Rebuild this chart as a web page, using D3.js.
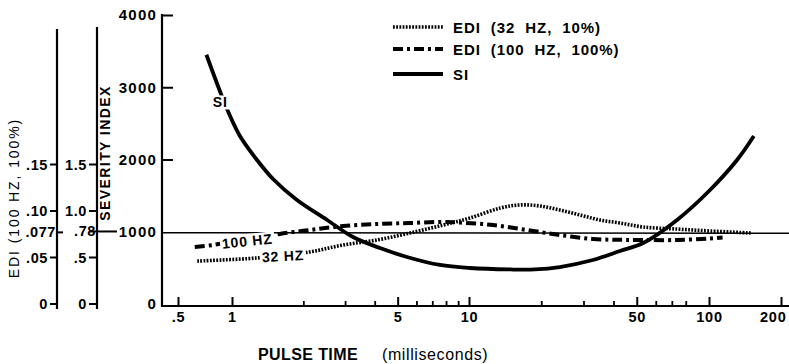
<!DOCTYPE html>
<html><head><meta charset="utf-8">
<script src="https://cdn.jsdelivr.net/npm/d3@7"></script>
<style>
body{margin:0;background:#fff}
svg{display:block}
text{font-family:"Liberation Sans",Arial,Helvetica,sans-serif;fill:#000}
</style>
</head><body>
<svg id="c" width="789" height="364"></svg>
<script>
// ---------------- data ----------------
const siTime  = [0.72, 0.86, 0.97, 1.08, 1.275, 1.49, 1.88, 2.52, 3.24, 4.21, 5.47, 7.54, 10.1, 14.8, 18.8, 23.9, 32.8, 42.6, 53.2, 73.6, 101, 131, 154];
const siValue = [3450, 2935, 2616, 2325, 1993, 1730, 1439, 1163, 927, 775, 651, 540, 498, 478, 478, 512, 609, 734, 844, 1163, 1578, 1993, 2325];

const edi100Time  = [0.62, 0.78, 1.0, 1.3, 1.59, 2.13, 2.94, 4.09, 5.63, 7.77, 9.2, 12.6, 17.4, 23.9, 32.8, 42.6, 53, 73.6, 101, 114];
const edi100Value = [0.0613, 0.0634, 0.067, 0.071, 0.0753, 0.0796, 0.0839, 0.0860, 0.0871, 0.0882, 0.0875, 0.0849, 0.0796, 0.0742, 0.0699, 0.0690, 0.0688, 0.0688, 0.0705, 0.0715];

const edi32Time  = [0.64, 1.275, 2.13, 2.94, 4.09, 5.63, 7.77, 10.1, 13.5, 16.3, 19.7, 23.9, 29, 35.1, 42.6, 53.2, 73.6, 101, 151];
const edi32Value = [0.462, 0.495, 0.56, 0.634, 0.688, 0.763, 0.849, 0.925, 1.032, 1.065, 1.054, 1.011, 0.957, 0.903, 0.871, 0.828, 0.806, 0.785, 0.763];

const xMajorTicks  = [0.5, 1, 5, 10, 50, 100, 200];
const xMajorLabels = [".5", "1", "5", "10", "50", "100", "200"];
const xMinorTicks  = [2, 3, 4, 6, 7, 8, 9, 20, 30, 40, 60, 70, 80];
const siTicks      = [0, 1000, 2000, 3000, 4000];
const edi100Ticks  = [0, 0.05, 0.077, 0.10, 0.15];
const edi100Labels = ["0", ".05", ".077", ".10", ".15"];
const edi32Ticks   = [0, 0.5, 0.78, 1.0, 1.5];
const edi32Labels  = ["0", ".5", ".78", "1.0", "1.5"];
const refLevel     = 1000;
const legendLabels = ["EDI  (32  HZ,  10%)", "EDI  (100  HZ,  100%)", "SI"];

// ---------------- scales ----------------
const svg = d3.select("#c");
const x = d3.scaleLog().domain([0.5, 1, 10, 100, 200]).range([178, 232, 469, 709, 781]);
const ySI = d3.scaleLinear().domain([0, 4000]).range([304, 15]);
const y100 = d3.scaleLinear().domain([0, 0.15]).range([304, 164.5]);
const y32 = d3.scaleLinear().domain([0, 1.5]).range([304, 164.5]);

const FONT = "Liberation Sans, Arial, Helvetica, sans-serif";

// ---------------- styles ----------------
const styles = {
  si:   {w: 3.8, dash: null},
  e100: {w: 4, dash: "10,4,3,4"},
  e32:  {w: 3.6, dash: "1.8,1.4"}
};

// ---------------- main axes ----------------
const yAxis = d3.axisLeft(ySI).tickValues(siTicks).tickFormat(d3.format("d"))
  .tickSizeInner(-11).tickSizeOuter(0).tickPadding(5);
const gy = svg.append("g").attr("transform", "translate(162,0)").call(yAxis);
gy.select(".domain").remove();
gy.selectAll(".tick line").attr("stroke", "#000").attr("stroke-width", 2)
  .filter(d => d === 0 || d === 1000).remove();
gy.selectAll(".tick text").attr("font-size", 15).attr("font-weight", "bold").attr("font-family", FONT)
  .attr("letter-spacing", 1.2);
svg.append("line").attr("x1", 162).attr("x2", 162).attr("y1", ySI(4000) - 1).attr("y2", 307)
  .attr("stroke", "#000").attr("stroke-width", 2.2);

const xAxis = d3.axisBottom(x).tickValues(xMajorTicks).tickFormat((d, i) => xMajorLabels[i])
  .tickSizeInner(-9).tickSizeOuter(0).tickPadding(6);
const gx = svg.append("g").attr("transform", "translate(0,306)").call(xAxis);
gx.select(".domain").remove();
gx.selectAll(".tick line").attr("stroke", "#000").attr("stroke-width", 2);
gx.selectAll(".tick text").attr("font-size", 14.5).attr("font-weight", "bold").attr("font-family", FONT)
  .attr("letter-spacing", 0.8)
  .filter(d => d === 200).attr("text-anchor", "end").attr("x", 5);
const xAxisMinor = d3.axisBottom(x).tickValues(xMinorTicks).tickFormat("").tickSizeInner(-5).tickSizeOuter(0);
const gxm = svg.append("g").attr("transform", "translate(0,306)").call(xAxisMinor);
gxm.select(".domain").remove();
gxm.selectAll(".tick line").attr("stroke", "#000").attr("stroke-width", 1.8);
svg.append("line").attr("x1", 161).attr("x2", 789).attr("y1", 306).attr("y2", 306)
  .attr("stroke", "#000").attr("stroke-width", 2.2);

// ---------------- left auxiliary axes ----------------
function auxAxis(xPos, scale, ticks, labels, top, labelRight, special) {
  svg.append("line").attr("x1", xPos).attr("x2", xPos).attr("y1", top).attr("y2", 309)
    .attr("stroke", "#000").attr("stroke-width", 2.2);
  ticks.forEach((t, i) => {
    const yy = scale(t);
    if (t !== special) {
      svg.append("line").attr("x1", labelRight + 2).attr("x2", xPos).attr("y1", yy).attr("y2", yy)
        .attr("stroke", "#000").attr("stroke-width", 2);
    }
    svg.append("text").attr("x", t === special ? xPos - 1 : labelRight).attr("y", yy + 5)
      .attr("text-anchor", "end").attr("font-size", 14.5).attr("font-weight", "bold")
      .attr("letter-spacing", 0.6).text(labels[i]);
  });
}
auxAxis(57, y100, edi100Ticks, edi100Labels, 29, 48, 0.077);
auxAxis(97, y32, edi32Ticks, edi32Labels, 27, 87, 0.78);
svg.append("line").attr("x1", 57).attr("x2", 63).attr("y1", y100(0.077)).attr("y2", y100(0.077))
  .attr("stroke", "#000").attr("stroke-width", 2);
svg.append("line").attr("x1", 89).attr("x2", 117).attr("y1", y32(0.78)).attr("y2", y32(0.78))
  .attr("stroke", "#000").attr("stroke-width", 2);

// axis titles
svg.append("text").attr("transform", "translate(110,153) rotate(-90)")
  .attr("text-anchor", "middle").attr("font-size", 14).attr("font-weight", "bold")
  .attr("letter-spacing", 1.4).text("SEVERITY INDEX");
svg.append("text").attr("transform", "translate(19,198) rotate(-90)")
  .attr("text-anchor", "middle").attr("font-size", 14)
  .attr("letter-spacing", 1.9).text("EDI (100 HZ, 100%)");

svg.append("text").attr("x", 258).attr("y", 360).attr("font-size", 16).attr("font-weight", "bold")
  .attr("letter-spacing", 0.4).text("PULSE TIME");
svg.append("text").attr("x", 382).attr("y", 360).attr("font-size", 16)
  .attr("letter-spacing", 0.6).text("(milliseconds)");

// ---------------- reference line ----------------
svg.append("line").attr("x1", 162).attr("x2", 789).attr("y1", ySI(refLevel) + 1).attr("y2", ySI(refLevel) + 1.5)
  .attr("stroke", "#000").attr("stroke-width", 1.6);

// ---------------- curves ----------------
const line = (ts, vs, ys) => d3.line().curve(d3.curveCatmullRom.alpha(0.5))
  .x((d, i) => x(ts[i])).y((d, i) => ys(vs[i]))(ts);
function drawCurve(ts, vs, ys, st) {
  const p = svg.append("path").attr("d", line(ts, vs, ys)).attr("fill", "none")
    .attr("stroke", "#000").attr("stroke-width", st.w);
  if (st.dash) p.attr("stroke-dasharray", st.dash);
}
drawCurve(edi32Time, edi32Value, y32, styles.e32);
drawCurve(edi100Time, edi100Value, y100, styles.e100);
drawCurve(siTime, siValue, ySI, styles.si);

// ---------------- in-plot labels ----------------
function plotLabel(txt, px, py, rot) {
  const g = svg.append("g").attr("transform", `translate(${px},${py}) rotate(${rot})`);
  const t = g.append("text").attr("text-anchor", "middle").attr("dy", "0.36em")
    .attr("font-size", 14).attr("font-weight", "bold").attr("letter-spacing", 0.8).text(txt);
  const b = t.node().getBBox();
  g.insert("rect", "text").attr("x", b.x - 2).attr("y", b.y + 1).attr("width", b.width + 4)
    .attr("height", b.height - 2).attr("fill", "#fff");
}
plotLabel("SI", x(0.86), ySI(2790), 0);
plotLabel("100 HZ", x(1.16), y100(0.0677), -6);
plotLabel("32 HZ", x(1.64), y32(0.516), -3);

// ---------------- legend ----------------
const legStyles = [styles.e32, styles.e100, styles.si];
const legY = [27, 49, 74];
legendLabels.forEach((lab, i) => {
  const l = svg.append("line").attr("x1", 393).attr("x2", 443).attr("y1", legY[i]).attr("y2", legY[i])
    .attr("stroke", "#000").attr("stroke-width", legStyles[i].w);
  if (legStyles[i].dash) l.attr("stroke-dasharray", legStyles[i].dash);
  svg.append("text").attr("x", 453).attr("y", legY[i] + 6).attr("font-size", 15).attr("font-weight", "bold")
    .attr("letter-spacing", 0.9).style("white-space", "pre").text(lab);
});
</script>
</body></html>
